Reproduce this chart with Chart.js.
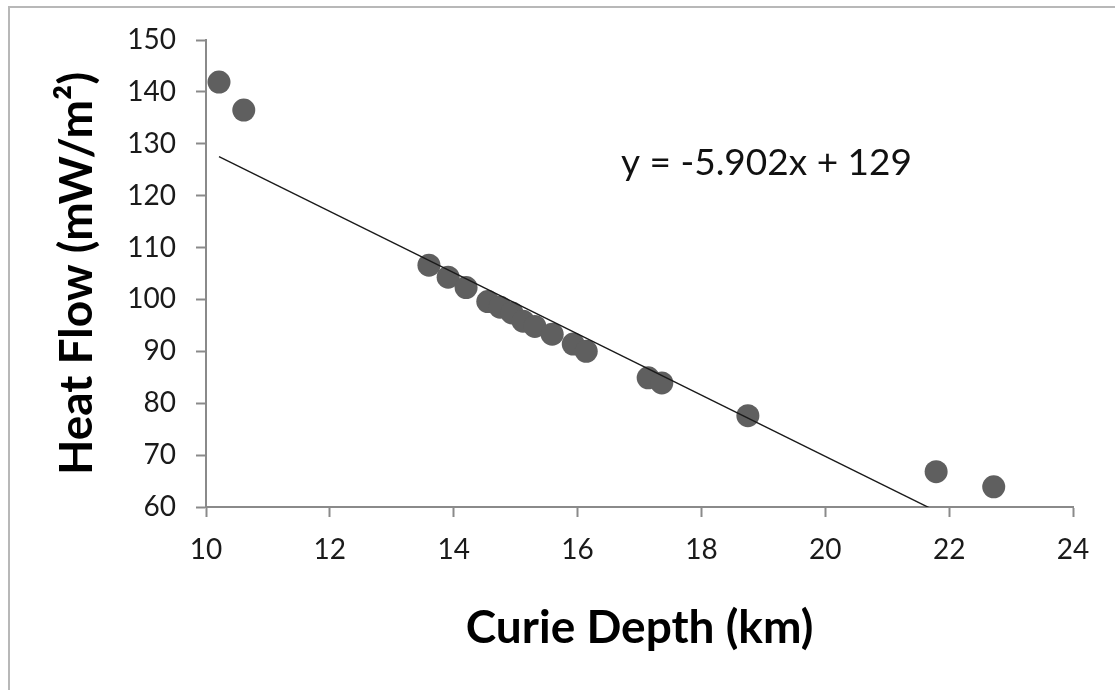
<!DOCTYPE html>
<html>
<head>
<meta charset="utf-8">
<script src="https://cdn.jsdelivr.net/npm/chart.js@4"></script>
<style>
  html, body { margin: 0; padding: 0; background: #fff; }
  #marco {
    position: absolute; left: 8px; top: 6px; width: 1107px; height: 684px;
    border-left: 2px solid #b8b8b8; border-top: 2px solid #b8b8b8;
  }
  #grafico { position: absolute; left: 0; top: 0; }
</style>
</head>
<body>
<div id="marco"></div>
<canvas id="grafico" width="1115" height="690"></canvas>
<script>
// Profundidad de Curie (km) y flujo de calor (mW/m²)
const profundidad = [10.21, 10.61, 13.60, 13.91, 14.20, 14.55, 14.75, 14.94, 15.12, 15.31, 15.59, 15.93, 16.14, 17.14, 17.36, 18.75, 21.79, 22.72];
const flujoCalor = [141.9, 136.5, 106.6, 104.3, 102.3, 99.6, 98.5, 97.4, 95.8, 94.8, 93.3, 91.4, 90.0, 84.9, 83.9, 77.6, 66.8, 63.9];

// Recta de tendencia
const pendiente = -5.902;
const intercepto = 187.8;
const ecuacion = 'y = -5.902x + 129';

const ticksX = [10, 12, 14, 16, 18, 20, 22, 24];
const ticksY = [60, 70, 80, 90, 100, 110, 120, 130, 140, 150];

const puntos = profundidad.map((x, i) => ({ x: x, y: flujoCalor[i] }));
const xIni = Math.min(...profundidad);
const xFin = Math.max(...profundidad);
const recta = [
    { x: xIni, y: pendiente * xIni + intercepto },
    { x: xFin, y: pendiente * xFin + intercepto }
];

const gris = '#8a8a8a';
const fuenteTicks = { family: 'Lato', size: 28 };
const fuenteTitulo = { family: 'Lato', size: 46, weight: 'bold' };

// Texto de la ecuación sobre el área del gráfico
const etiquetaEcuacion = {
    id: 'etiquetaEcuacion',
    afterDatasetsDraw(chart) {
        const ctx = chart.ctx;
        const px = chart.scales.x.getPixelForValue(19.05);
        const py = chart.scales.y.getPixelForValue(126.3);
        ctx.save();
        ctx.font = '37px Lato';
        ctx.fillStyle = '#111';
        ctx.textAlign = 'center';
        ctx.textBaseline = 'middle';
        ctx.fillText(ecuacion, px, py);
        ctx.restore();
    }
};

new Chart(document.getElementById('grafico'), {
    type: 'scatter',
    data: {
        datasets: [
            {
                label: 'Datos',
                data: puntos,
                pointRadius: 11.5,
                pointHoverRadius: 11.5,
                pointBackgroundColor: '#5f5f5f',
                pointBorderWidth: 0,
                order: 2
            },
            {
                label: 'Tendencia',
                type: 'line',
                data: recta,
                borderColor: '#1a1a1a',
                borderWidth: 1.4,
                pointRadius: 0,
                fill: false,
                clip: 0,
                order: 1
            }
        ]
    },
    options: {
        responsive: false,
        animation: false,
        events: [],
        layout: { padding: { left: 0, right: 42, top: 40, bottom: 0 } },
        plugins: { legend: { display: false }, tooltip: { enabled: false } },
        scales: {
            x: {
                type: 'linear',
                min: 10, max: 24,
                afterBuildTicks: s => { s.ticks = ticksX.map(v => ({ value: v })); },
                afterFit: s => { s.height = 183; },
                grid: { drawOnChartArea: false, drawTicks: true, tickLength: 10, tickColor: gris, tickWidth: 2 },
                border: { color: gris, width: 2 },
                ticks: { font: fuenteTicks, color: '#1a1a1a', padding: 16, maxRotation: 0 },
                title: { display: true, text: 'Curie Depth (km)', font: fuenteTitulo, color: '#000', padding: { bottom: 34 } }
            },
            y: {
                type: 'linear',
                min: 60, max: 150,
                afterBuildTicks: s => { s.ticks = ticksY.map(v => ({ value: v })); },
                afterFit: s => { s.width = 206; },
                grid: { drawOnChartArea: false, drawTicks: true, tickLength: 10, tickColor: gris, tickWidth: 2 },
                border: { color: gris, width: 2 },
                ticks: { font: fuenteTicks, color: '#1a1a1a', padding: 20 },
                title: { display: true, text: 'Heat Flow (mW/m²)', font: fuenteTitulo, color: '#000', padding: { top: 50 } }
            }
        }
    },
    plugins: [etiquetaEcuacion]
});
</script>
</body>
</html>
